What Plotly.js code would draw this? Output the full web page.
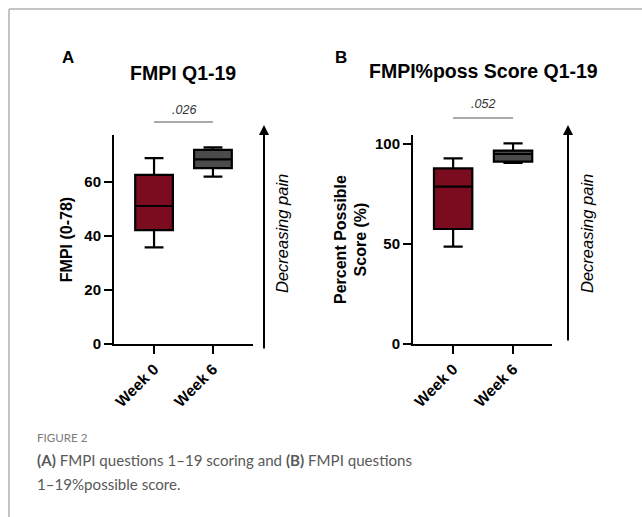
<!DOCTYPE html>
<html><head><meta charset="utf-8">
<script src="https://cdn.plot.ly/plotly-3.0.1.min.js"></script>
<style>body{margin:0;padding:0;background:#fff}#chart{width:642px;height:517px}</style>
</head><body><div id="chart"></div>
<script>
// ---- data ----
const categories = ['Week 0', 'Week 6'];
// Panel A: FMPI Q1-19 (0-78)
const fmpiLower  = [35.8, 62.0];
const fmpiQ1     = [42.2, 65.1];
const fmpiMedian = [51.1, 68.4];
const fmpiQ3     = [62.6, 71.9];
const fmpiUpper  = [68.8, 72.8];
// Panel B: FMPI %possible score Q1-19
const possLower  = [48.7, 90.5];
const possQ1     = [57.5, 91.2];
const possMedian = [78.7, 95.0];
const possQ3     = [87.8, 96.7];
const possUpper  = [92.8, 100.3];
const pValues = ['.026', '.052'];
const fmpiTicks = [0, 20, 40, 60];
const possTicks = [0, 50, 100];

const W = 642, H = 517;
const px = x => x / W, py = y => 1 - y / H;
const fills = ['#7b0c1f', '#4b4b4b'];
const F = 'Liberation Sans, Arial, sans-serif';
const CF = 'Lato, sans-serif';

function boxes(xa, ya, lo, q1, med, q3, up) {
  return categories.map((c, i) => ({
    type: 'box', x: [c], lowerfence: [lo[i]], q1: [q1[i]], median: [med[i]], q3: [q3[i]], upperfence: [up[i]],
    fillcolor: fills[i], line: {color: '#000', width: 2.2}, width: 0.64, whiskerwidth: 0.5,
    boxpoints: false, hoverinfo: 'skip', showlegend: false, xaxis: xa, yaxis: ya
  }));
}
const data = [
  ...boxes('x', 'y', fmpiLower, fmpiQ1, fmpiMedian, fmpiQ3, fmpiUpper),
  ...boxes('x2', 'y2', possLower, possQ1, possMedian, possQ3, possUpper)
];

function xax(d0, d1, rng) {
  return {domain: [px(d0), px(d1)], type: 'category', categoryarray: categories, range: rng,
    showline: true, linecolor: '#000', linewidth: 2, ticks: 'outside', ticklen: 8, tickwidth: 2, tickcolor: '#000',
    tickangle: -45, tickfont: {family: F, size: 15.5, color: '#000', weight: 'bold'},
    showgrid: false, zeroline: false, fixedrange: true};
}
function yax(rng, tv, title, standoff, anchor) {
  return {domain: [py(344), py(135)], range: rng, tickvals: tv, anchor: anchor,
    showline: true, linecolor: '#000', linewidth: 2, ticks: 'outside', ticklen: 8, tickwidth: 2, tickcolor: '#000',
    tickfont: {family: F, size: 15, color: '#000', weight: 'bold'}, showgrid: false, zeroline: false, fixedrange: true,
    title: {text: title, font: {family: F, size: 16, color: '#000', weight: 'bold'}, standoff: standoff}};
}
function ann(text, x, y, font, extra) {
  return Object.assign({text: text, xref: 'paper', yref: 'paper', x: px(x), y: py(y), xanchor: 'center', yanchor: 'middle',
    showarrow: false, font: font}, extra || {});
}

const layout = {
  width: W, height: H, margin: {l: 0, r: 0, t: 0, b: 0}, paper_bgcolor: '#fff', plot_bgcolor: '#fff',
  showlegend: false,
  xaxis: Object.assign(xax(114, 253, [-0.68, 1.68]), {anchor: 'y'}),
  yaxis: yax([0, 77.4], fmpiTicks, 'FMPI (0-78)', 8, 'x'),
  xaxis2: Object.assign(xax(413, 552, [-0.67, 1.65]), {anchor: 'y2'}),
  yaxis2: yax([0, 104.5], possTicks, 'Percent Possible<br>Score (%)', 4, 'x2'),
  shapes: [
    {type: 'line', xref: 'paper', yref: 'paper', x0: px(9), x1: 1, y0: py(9), y1: py(9), line: {color: '#b0b0b0', width: 1.5}},
    {type: 'line', xref: 'paper', yref: 'paper', x0: px(9), x1: px(9), y0: py(9), y1: 0, line: {color: '#b0b0b0', width: 1.5}},
    {type: 'line', xref: 'x', yref: 'paper', x0: 'Week 0', x1: 'Week 6', y0: py(122), y1: py(122), line: {color: '#555', width: 1}},
    {type: 'line', xref: 'x2', yref: 'paper', x0: 'Week 0', x1: 'Week 6', y0: py(118), y1: py(118), line: {color: '#555', width: 1}}
  ],
  annotations: [
    ann('<b>A</b>', 68, 57, {family: F, size: 17, color: '#000'}),
    ann('<b>B</b>', 341, 57, {family: F, size: 17, color: '#000'}),
    ann('<b>FMPI Q1-19</b>', 183, 73, {family: F, size: 19.5, color: '#000'}),
    ann('<b>FMPI%poss Score Q1-19</b>', 483, 71, {family: F, size: 19.5, color: '#000'}),
    ann('<i>' + pValues[0] + '</i>', 184, 110, {family: F, size: 12.5, color: '#333'}),
    ann('<i>' + pValues[1] + '</i>', 483, 104, {family: F, size: 12.5, color: '#333'}),
    // arrows
    {text: '', xref: 'paper', yref: 'paper', x: px(264), y: py(125), axref: 'pixel', ayref: 'pixel', ax: 0, ay: 225,
      showarrow: true, arrowhead: 2, arrowsize: 1, arrowwidth: 2, arrowcolor: '#000'},
    {text: '', xref: 'paper', yref: 'paper', x: px(568), y: py(125), axref: 'pixel', ayref: 'pixel', ax: 0, ay: 217,
      showarrow: true, arrowhead: 2, arrowsize: 1, arrowwidth: 2, arrowcolor: '#000'},
    ann('<i>Decreasing pain</i>', 282, 234, {family: F, size: 16.5, color: '#000'}, {textangle: -90}),
    ann('<i>Decreasing pain</i>', 587, 234, {family: F, size: 16.5, color: '#000'}, {textangle: -90}),
    // caption
    ann('FIGURE 2', 35, 437, {family: CF, size: 11.6, color: '#7a7a7a'}, {xanchor: 'left'}),
    ann('<b>(A)</b> FMPI questions 1–19 scoring and <b>(B)</b> FMPI questions', 35, 460,
      {family: CF, size: 15.1, color: '#595959'}, {xanchor: 'left'}),
    ann('1–19%possible score.', 35, 484, {family: CF, size: 15.1, color: '#595959'}, {xanchor: 'left'})
  ]
};
Plotly.newPlot('chart', data, layout, {displayModeBar: false, staticPlot: true});
</script></body></html>
